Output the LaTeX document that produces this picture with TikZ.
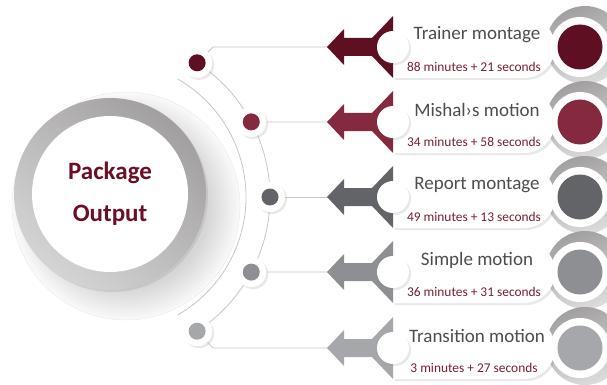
\documentclass[tikz,border=0pt]{standalone}
\usepackage{fontspec}
\setmainfont{Carlito}
\usetikzlibrary{calc,shadows}

\definecolor{rowA}{HTML}{5E0F22}
\definecolor{rowB}{HTML}{85293F}
\definecolor{rowC}{HTML}{636468}
\definecolor{rowD}{HTML}{8E8F93}
\definecolor{rowE}{HTML}{A6A7AB}
\definecolor{hubred}{HTML}{6B0F25}
\definecolor{subred}{HTML}{7A1F33}
\definecolor{labelgray}{HTML}{4D4D4F}
\definecolor{ringdark}{HTML}{A29FA0}
\definecolor{ringlight}{HTML}{D4D4D4}
\definecolor{linegray}{HTML}{C6C6C6}

\pgfdeclareradialshading{hubshadow}{\pgfpoint{0bp}{0bp}}{color(0bp)=(gray!40); color(18bp)=(gray!32); color(25bp)=(white!96!gray); color(50bp)=(white)}

\tikzset{
  thinline/.style={draw=linegray, line width=0.8pt},
  softshadow/.style={drop shadow={shadow xshift=2pt, shadow yshift=-2pt, opacity=0.18}},
  halo/.style={circle, fill=white, minimum size=30pt, inner sep=0pt, softshadow},
  pip/.style={circle, minimum size=17pt, inner sep=0pt},
  knob/.style={circle, fill=white, minimum size=32pt, inner sep=0pt, softshadow},
  rim/.style={circle, fill=white, minimum size=60pt, inner sep=0pt},
  disc/.style={circle, minimum size=45pt, inner sep=0pt},
  title/.style={text=labelgray, font=\fontsize{19}{19}\selectfont},
  sub/.style={text=subred, font=\fontsize{13.4}{13.4}\selectfont},
}

\begin{document}
\begin{tikzpicture}[x=1pt, y=-1pt]
  \useasboundingbox (0,0) rectangle (607,385);

  \coordinate (hub) at (110,194);
  \coordinate (orbit) at (110,197);

  % pale disc behind the hub
  \shade[shading=hubshadow] (126,206) circle[radius=114];
  \draw[gray!18, line width=0.4pt] (126,206) circle[radius=114];

  % the two arcs
  \draw[thinline] (orbit) ++(-60:136) arc[start angle=-60, end angle=60, radius=136];
  \draw[thinline] (orbit) ++(-57:160) arc[start angle=-57, end angle=57, radius=160];

  % hub
  \shade[top color=ringdark, bottom color=ringlight, shading angle=-40, softshadow] (hub) circle[radius=96];
  \fill[white] (hub) circle[radius=78];
  \node[text=hubred, font=\bfseries\fontsize{25}{42}\selectfont, align=center] (hubtext) at (110,194) {Package\\Output};

  \foreach \y/\col/\name/\sub/\ang [count=\i] in {
      47/rowA/Trainer montage/88 minutes + 21 seconds/-57,
      122/rowB/Mishal›s motion/34 minutes + 58 seconds/-28,
      197/rowC/Report montage/49 minutes + 13 seconds/0,
      272/rowD/Simple motion/36 minutes + 31 seconds/28,
      348/rowE/Transition motion/3 minutes + 27 seconds/57} {
    % ring on the right
    \shade[top color=ringdark, bottom color=ringlight!80!white, shading angle=20] (585,\y-2) circle[radius=39];
    % capsule
    \fill[white, softshadow] (393,\y-31) -- (524,\y-31) arc[start angle=-90, end angle=90, radius=31] -- (393,\y+31) -- cycle;
    % arrow flag
    \fill[\col] (327,\y) -- (344,\y-18) -- (344,\y-9) -- (372,\y-9) -- (393,\y-31)
                -- (393,\y+31) -- (372,\y+9) -- (344,\y+9) -- (344,\y+18) -- cycle;
    \coordinate (tip\i) at (327,\y);
    \node[knob] (knob\i) at (393,\y) {};
    % disc on the right
    \node[rim] (rim\i) at (580,\y) {};
    \node[disc, fill=\col] (disc\i) at (580,\y) {};
    \node[title] (name\i) at (477,\y-12) {\name};
    \node[sub] (sub\i) at (474,\y+20) {\sub};
    % dot on the orbit
    \node[halo] (halo\i) at ($(orbit)+(\ang:160)$) {};
    \node[pip, fill=\col] (pip\i) at (halo\i) {};
  }

  % connectors
  \coordinate (bendA) at (213,47);
  \coordinate (bendE) at (213,348);
  \draw[thinline] (halo1) -- (bendA) -- (tip1);
  \draw[thinline] (halo2) -- (tip2);
  \draw[thinline] (halo3) -- (tip3);
  \draw[thinline] (halo4) -- (tip4);
  \draw[thinline] (halo5) -- (bendE) -- (tip5);
\end{tikzpicture}
\end{document}
